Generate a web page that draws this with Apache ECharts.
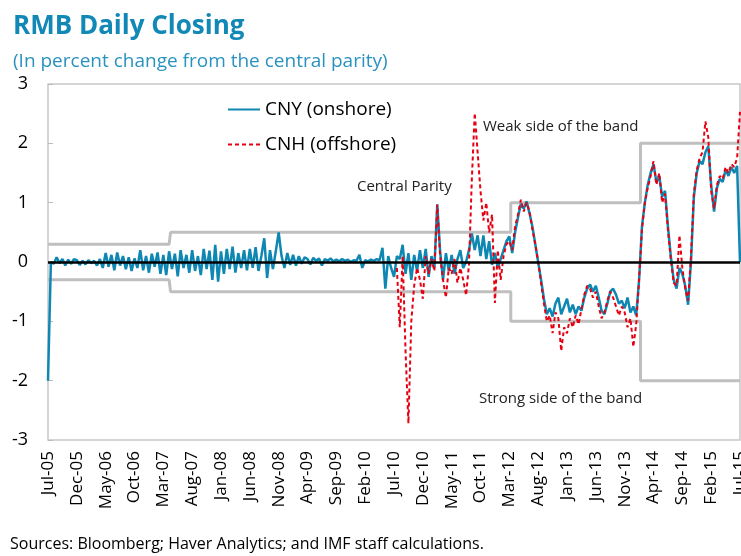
<!DOCTYPE html>
<html>
<head>
<meta charset="utf-8">
<script src="https://cdn.jsdelivr.net/npm/echarts@6/dist/echarts.min.js"></script>
<style>
  html, body { margin: 0; padding: 0; background: #fff; }
  #chart { width: 741px; height: 556px; }
</style>
</head>
<body>
<div id="chart"></div>
<script>
// RMB daily closing at roughly two points per month (Jul-05 .. Aug-15)

const tickLabels = ["Jul-05", "Dec-05", "May-06", "Oct-06", "Mar-07", "Aug-07", "Jan-08", "Jun-08",
  "Nov-08", "Apr-09", "Sep-09", "Feb-10", "Jul-10", "Dec-10", "May-11", "Oct-11", "Mar-12",
  "Aug-12", "Jan-13", "Jun-13", "Nov-13", "Apr-14", "Sep-14", "Feb-15", "Jul-15"];

// CNY (onshore), one value per half month
const cnyData = [
  -2.0, 0.0, -0.03, 0.08, -0.02, 0.05, -0.06, 0.04, -0.03, 0.05,
  0.03, -0.05, 0.02, -0.04, 0.03, -0.02, 0.02, -0.06, 0.05, -0.1,
  0.15, -0.08, 0.12, -0.14, 0.16, -0.06, 0.1, -0.12, 0.08, -0.15,
  0.06, -0.1, 0.2, -0.14, 0.1, -0.18, 0.14, -0.08, 0.16, -0.2,
  0.12, -0.22, 0.18, -0.12, 0.14, -0.24, 0.2, -0.1, 0.12, -0.18,
  0.2, -0.15, 0.1, -0.22, 0.22, -0.12, 0.19, -0.3, 0.29, -0.33,
  0.18, -0.2, 0.22, -0.12, 0.26, -0.18, 0.15, -0.1, 0.2, -0.14,
  0.22, -0.1, 0.25, -0.15, 0.1, 0.4, -0.27, 0.2, -0.12, 0.18,
  0.5, 0.1, -0.1, 0.15, -0.05, 0.12, -0.06, 0.1, -0.03, 0.08,
  0.05, -0.04, 0.07, 0.02, 0.06, -0.06, 0.05, 0.02, 0.06, 0.01,
  0.04, 0.01, 0.05, 0.02, 0.04, 0.0, 0.03, 0.02, 0.12, -0.1,
  0.03, 0.01, 0.04, 0.02, 0.05, 0.03, 0.24, -0.45, 0.1, -0.1,
  -0.25, 0.1, 0.05, 0.29, -0.2, 0.15, -0.3, 0.12, -0.15, 0.2,
  -0.1, 0.22, -0.25, 0.1, -0.1, 0.97, 0.18, -0.3, 0.15, -0.15,
  0.12, -0.2, 0.05, 0.2, -0.1, 0.0, 0.2, 0.48, 0.2, 0.45,
  0.1, 0.45, 0.05, 0.35, -0.05, 0.15, -0.1, 0.05, 0.2, 0.35,
  0.43, 0.15, 0.5, 0.75, 0.98, 0.9, 1.02, 0.82, 0.6, 0.3,
  0.0, -0.3, -0.62, -0.88, -0.78, -0.92, -0.7, -0.6, -0.88, -0.75,
  -0.62, -0.85, -0.72, -0.88, -0.75, -0.82, -0.6, -0.45, -0.38, -0.5,
  -0.4, -0.6, -0.82, -0.88, -0.7, -0.5, -0.45, -0.55, -0.7, -0.65,
  -0.78, -0.6, -0.85, -0.75, -0.9, -0.3, 0.6, 1.0, 1.3, 1.5,
  1.65, 1.35, 1.45, 1.1, 1.2, 0.6, 0.1, -0.3, -0.45, -0.1,
  -0.2, -0.4, -0.72, 0.0, 1.1, 1.5, 1.7, 1.65, 1.85, 1.95,
  1.3, 0.85, 1.25, 1.4, 1.35, 1.55, 1.45, 1.6, 1.5, 1.62,
  0.0
];

// CNH (offshore) starts in Aug-10 (half-month 121)
const cnhStart = 121;
const cnhValues = [
  -0.1, -1.1, 0.1, -1.5, -2.72, -1.0, -0.4, -0.1, -0.3,
  -0.62, 0.1, -0.2, 0.05, -0.15, 0.97, 0.1, -0.3, -0.6, -0.1,
  -0.2, 0.05, -0.35, -0.1, -0.3, -0.56, -0.05, 1.4, 2.51, 1.85,
  1.2, 0.7, 1.0, 0.5, 0.8, -0.69, 0.2, -0.3, 0.1, 0.3,
  0.35, 0.2, 0.6, 0.8, 1.05, 0.85, 1.0, 0.85, 0.55, 0.3,
  0.0, -0.35, -0.7, -1.0, -0.9, -1.2, -0.85, -0.95, -1.5, -1.1,
  -1.2, -0.95, -1.1, -0.9, -1.05, -0.8, -0.55, -0.4, -0.45, -0.6,
  -0.5, -0.75, -0.95, -0.85, -0.65, -0.5, -0.6, -0.75, -0.9, -0.75,
  -0.85, -1.1, -0.95, -1.43, -1.05, -0.3, 0.55, 1.0, 1.25, 1.45,
  1.7, 1.3, 1.5, 1.0, 1.15, 0.55, 0.05, -0.35, -0.4, 0.45,
  -0.1, -0.45, -0.65, 0.1, 1.15, 1.55, 1.75, 1.85, 2.37, 2.1,
  1.2, 0.9, 1.3, 1.45, 1.4, 1.6, 1.5, 1.65, 1.6, 1.75,
  2.53
];

// trading band (+/- percent) and the half-month it took effect
const bandLimit = [0.3, 0.5, 1.0, 2.0];
const bandFrom = [0, 43, 161, 206];

const monthNames = ["Jan", "Feb", "Mar", "Apr", "May", "Jun", "Jul", "Aug", "Sep", "Oct", "Nov", "Dec"];
const periods = cnyData.map(function (v, i) {
  const m = 6 + Math.floor(i / 2);
  const yy = String(2005 + Math.floor(m / 12)).slice(2);
  return monthNames[m % 12] + "-" + yy + (i % 2 ? " b" : " a");
});

const cnhData = periods.map(function (p, i) {
  return i < cnhStart ? null : cnhValues[i - cnhStart];
});

const bandUpper = periods.map(function (p, i) {
  let v = bandLimit[0];
  bandFrom.forEach(function (f, k) { if (i >= f) v = bandLimit[k]; });
  return v;
});
const bandLower = bandUpper.map(function (v) { return -v; });

var dom = document.getElementById("chart");
var myChart = echarts.init(dom);

const font = "'Open Sans', 'Noto Sans', sans-serif";
const bandStyle = { color: "#bfbfbf", width: 3 };

var option = {
  animation: false,
  textStyle: { fontFamily: font },
  title: {
    text: "RMB Daily Closing",
    subtext: "(In percent change from the central parity)",
    left: 8,
    top: 9,
    itemGap: 12,
    textStyle: { fontFamily: font, fontSize: 26, fontWeight: "bold", color: "#1188b5" },
    subtextStyle: { fontFamily: font, fontSize: 19, color: "#2a92bf" },
  },
  legend: {
    data: ["CNY (onshore)", "CNH (offshore)"],
    orient: "vertical",
    left: 222,
    top: 95,
    itemWidth: 32,
    itemHeight: 14,
    itemGap: 16,
    itemStyle: { opacity: 0 },
    textStyle: { fontFamily: font, fontSize: 19, color: "#000" },
  },
  grid: {
    left: 48,
    right: 1,
    top: 84,
    bottom: 116,
    outerBoundsMode: "none",
    show: true,
    borderColor: "#c8c8c8",
    borderWidth: 1.5,
  },
  xAxis: {
    type: "category",
    data: periods,
    boundaryGap: false,
    axisLine: { show: false },
    axisTick: { show: false },
    axisLabel: {
      interval: 9,
      rotate: 90,
      fontFamily: font,
      fontSize: 17,
      color: "#000",
      margin: 11,
      formatter: function (v, i) {
        return i % 10 === 0 ? tickLabels[i / 10] : "";
      },
    },
  },
  yAxis: {
    type: "value",
    min: -3,
    max: 3,
    interval: 1,
    splitLine: { show: false },
    axisLine: { show: false },
    axisTick: { show: true, inside: true, length: 5, lineStyle: { color: "#bbb" } },
    axisLabel: { fontFamily: font, fontSize: 18, color: "#000", margin: 20 },
  },
  graphic: [
    { type: "text", left: 357, top: 179, style: { text: "Central Parity", fontFamily: font, fontSize: 15, fill: "#222" } },
    { type: "text", left: 483, top: 119, style: { text: "Weak side of the band", fontFamily: font, fontSize: 15, fill: "#222" } },
    { type: "text", left: 479, top: 391, style: { text: "Strong side of the band", fontFamily: font, fontSize: 15, fill: "#222" } },
    { type: "text", left: 10, top: 536, style: { text: "Sources: Bloomberg; Haver Analytics; and IMF staff calculations.", fontFamily: font, fontSize: 16, fill: "#000" } },
  ],
  series: [
    { name: "upper band", type: "line", data: bandUpper, step: "middle", symbol: "none", silent: true, lineStyle: bandStyle, z: 1 },
    { name: "lower band", type: "line", data: bandLower, step: "middle", symbol: "none", silent: true, lineStyle: bandStyle, z: 1 },
    {
      name: "CNY (onshore)",
      type: "line",
      data: cnyData,
      symbol: "none",
      lineStyle: { color: "#0e87b3", width: 2.5 },
      itemStyle: { color: "#0e87b3" },
      z: 3,
    },
    {
      name: "CNH (offshore)",
      type: "line",
      data: cnhData,
      symbol: "none",
      lineStyle: { color: "#e60012", width: 2, type: [4, 3] },
      itemStyle: { color: "#e60012" },
      z: 4,
      // zero line drawn over both series
      markLine: {
        silent: true,
        symbol: "none",
        label: { show: false },
        lineStyle: { color: "#000", width: 2.5, type: "solid" },
        data: [{ yAxis: 0 }],
      },
    },
  ],
};

if (option && typeof option === "object") {
  myChart.setOption(option);
}
</script>
</body>
</html>
